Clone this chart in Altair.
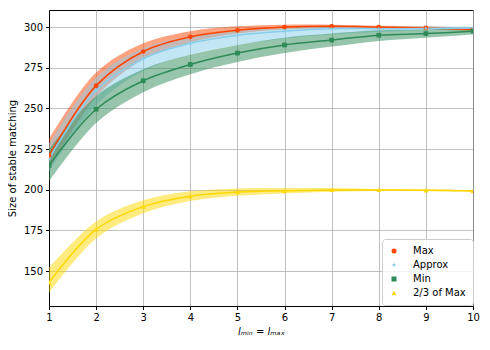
import altair as alt
import pandas as pd

x_vals = [1, 2, 3, 4, 5, 6, 7, 8, 9, 10]
series_names = ["Max", "Approx", "Min", "2/3 of Max"]

max_v = [221, 264, 285, 294, 298, 300, 300.5, 300, 299.5, 298.5]
max_lo = [212, 257, 280, 290.5, 296, 298.5, 299.5, 299.3, 298.5, 297.5]
max_hi = [231, 272, 290, 297.5, 300.5, 301.5, 301.5, 300.8, 300.5, 299.5]

approx_v = [219, 261, 280.5, 290, 295, 297.5, 299, 299, 299.2, 299.5]
approx_lo = [211, 252, 273, 283, 289, 293, 295.5, 297, 298, 298.5]
approx_hi = [228, 269, 287, 294.5, 298, 299.5, 300.5, 300.5, 300.3, 300.3]

min_v = [215, 249.5, 267, 277, 284, 289, 292, 295, 296, 297.5]
min_lo = [205, 241, 260, 271, 278.5, 284, 288, 291.5, 293.5, 295.5]
min_hi = [225, 257.5, 274, 283, 289, 293.5, 296, 298, 298.5, 299.5]

tt_v = [143, 175.6, 189.6, 196, 198.6, 199.3, 199.8, 199.8, 199.6, 199.2]
tt_lo = [136.5, 170, 185.5, 193, 196.3, 197.7, 198.8, 199.2, 199, 198.6]
tt_hi = [152, 180.5, 193.5, 199, 200.8, 201, 201, 200.5, 200.3, 199.8]

colors = ["#FF4500", "#87CEEB", "#2E8B57", "#FFD700"]
star = "M0,-1L0.2245,-0.309L0.951,-0.309L0.363,0.118L0.588,0.809L0,0.382L-0.588,0.809L-0.363,0.118L-0.951,-0.309L-0.2245,-0.309Z"
shapes = ["circle", star, "square", "triangle-up"]

rows = []
for name, v, lo, hi in zip(series_names,
                            [max_v, approx_v, min_v, tt_v],
                            [max_lo, approx_lo, min_lo, tt_lo],
                            [max_hi, approx_hi, min_hi, tt_hi]):
    for i, xv in enumerate(x_vals):
        rows.append({"series": name, "x": xv, "v": v[i], "lo": lo[i], "hi": hi[i],
                     "order": series_names.index(name)})
df = pd.DataFrame(rows)

xs = alt.Scale(domain=[1, 10], nice=False)
ys = alt.Scale(domain=[128.5, 310.5], nice=False, zero=False)
cs = alt.Scale(domain=series_names, range=colors)
ss = alt.Scale(domain=series_names, range=shapes)

x_enc = alt.X("x:Q", scale=xs,
              axis=alt.Axis(title="lₘᵢₙ = lₘₐₓ", values=x_vals, titleFontStyle="italic",
                            labelFlush=False))
y_enc = alt.Y("v:Q", scale=ys,
              axis=alt.Axis(title="Size of stable matching", values=[150, 175, 200, 225, 250, 275, 300]))

leg = alt.Legend(orient="none", legendX=333, legendY=229, title=None)
color_enc = alt.Color("series:N", scale=cs, title=None, legend=leg)

base = alt.Chart(df)

bands = base.mark_area(interpolate="catmull-rom", opacity=0.5, clip=True).encode(
    x=x_enc,
    y=alt.Y("lo:Q", scale=ys),
    y2="hi:Q",
    color=color_enc,
    detail="series:N",
)

lines = base.mark_line(interpolate="catmull-rom", strokeWidth=1.5, clip=True).encode(
    x=x_enc,
    y=y_enc,
    color=color_enc,
    detail="series:N",
)

points = base.mark_point(filled=True, size=22, opacity=1, clip=True).encode(
    x=x_enc,
    y=y_enc,
    color=color_enc,
    shape=alt.Shape("series:N", scale=ss, title=None, legend=leg),
)

chart = alt.layer(bands, lines, points).properties(
    width=424, height=296,
    autosize=alt.AutoSizeParams(type="none"),
    padding={"left": 41, "top": 2, "right": 9, "bottom": 36},
).configure_view(stroke="black", strokeWidth=1).configure_axis(
    grid=True, gridColor="#b0b0b0", gridWidth=0.8,
    domainColor="black", tickColor="black", tickSize=3.5,
    labelFont="DejaVu Sans", labelFontSize=10, labelColor="black",
    titleFont="DejaVu Sans", titleFontSize=10, titleFontWeight="normal", titleColor="black",
    labelPadding=3,
).configure_axisY(titlePadding=6).configure_axisX(titlePadding=4).configure_legend(
    padding=7, strokeColor="#cccccc", fillColor="rgba(255,255,255,0.8)", cornerRadius=3,
    labelFont="DejaVu Sans", labelFontSize=10, labelColor="black",
    symbolSize=25, rowPadding=4, labelOffset=14, symbolStrokeWidth=0, symbolOpacity=1,
)

chart.save("out.html", embed_options={"renderer": "svg", "actions": False})
